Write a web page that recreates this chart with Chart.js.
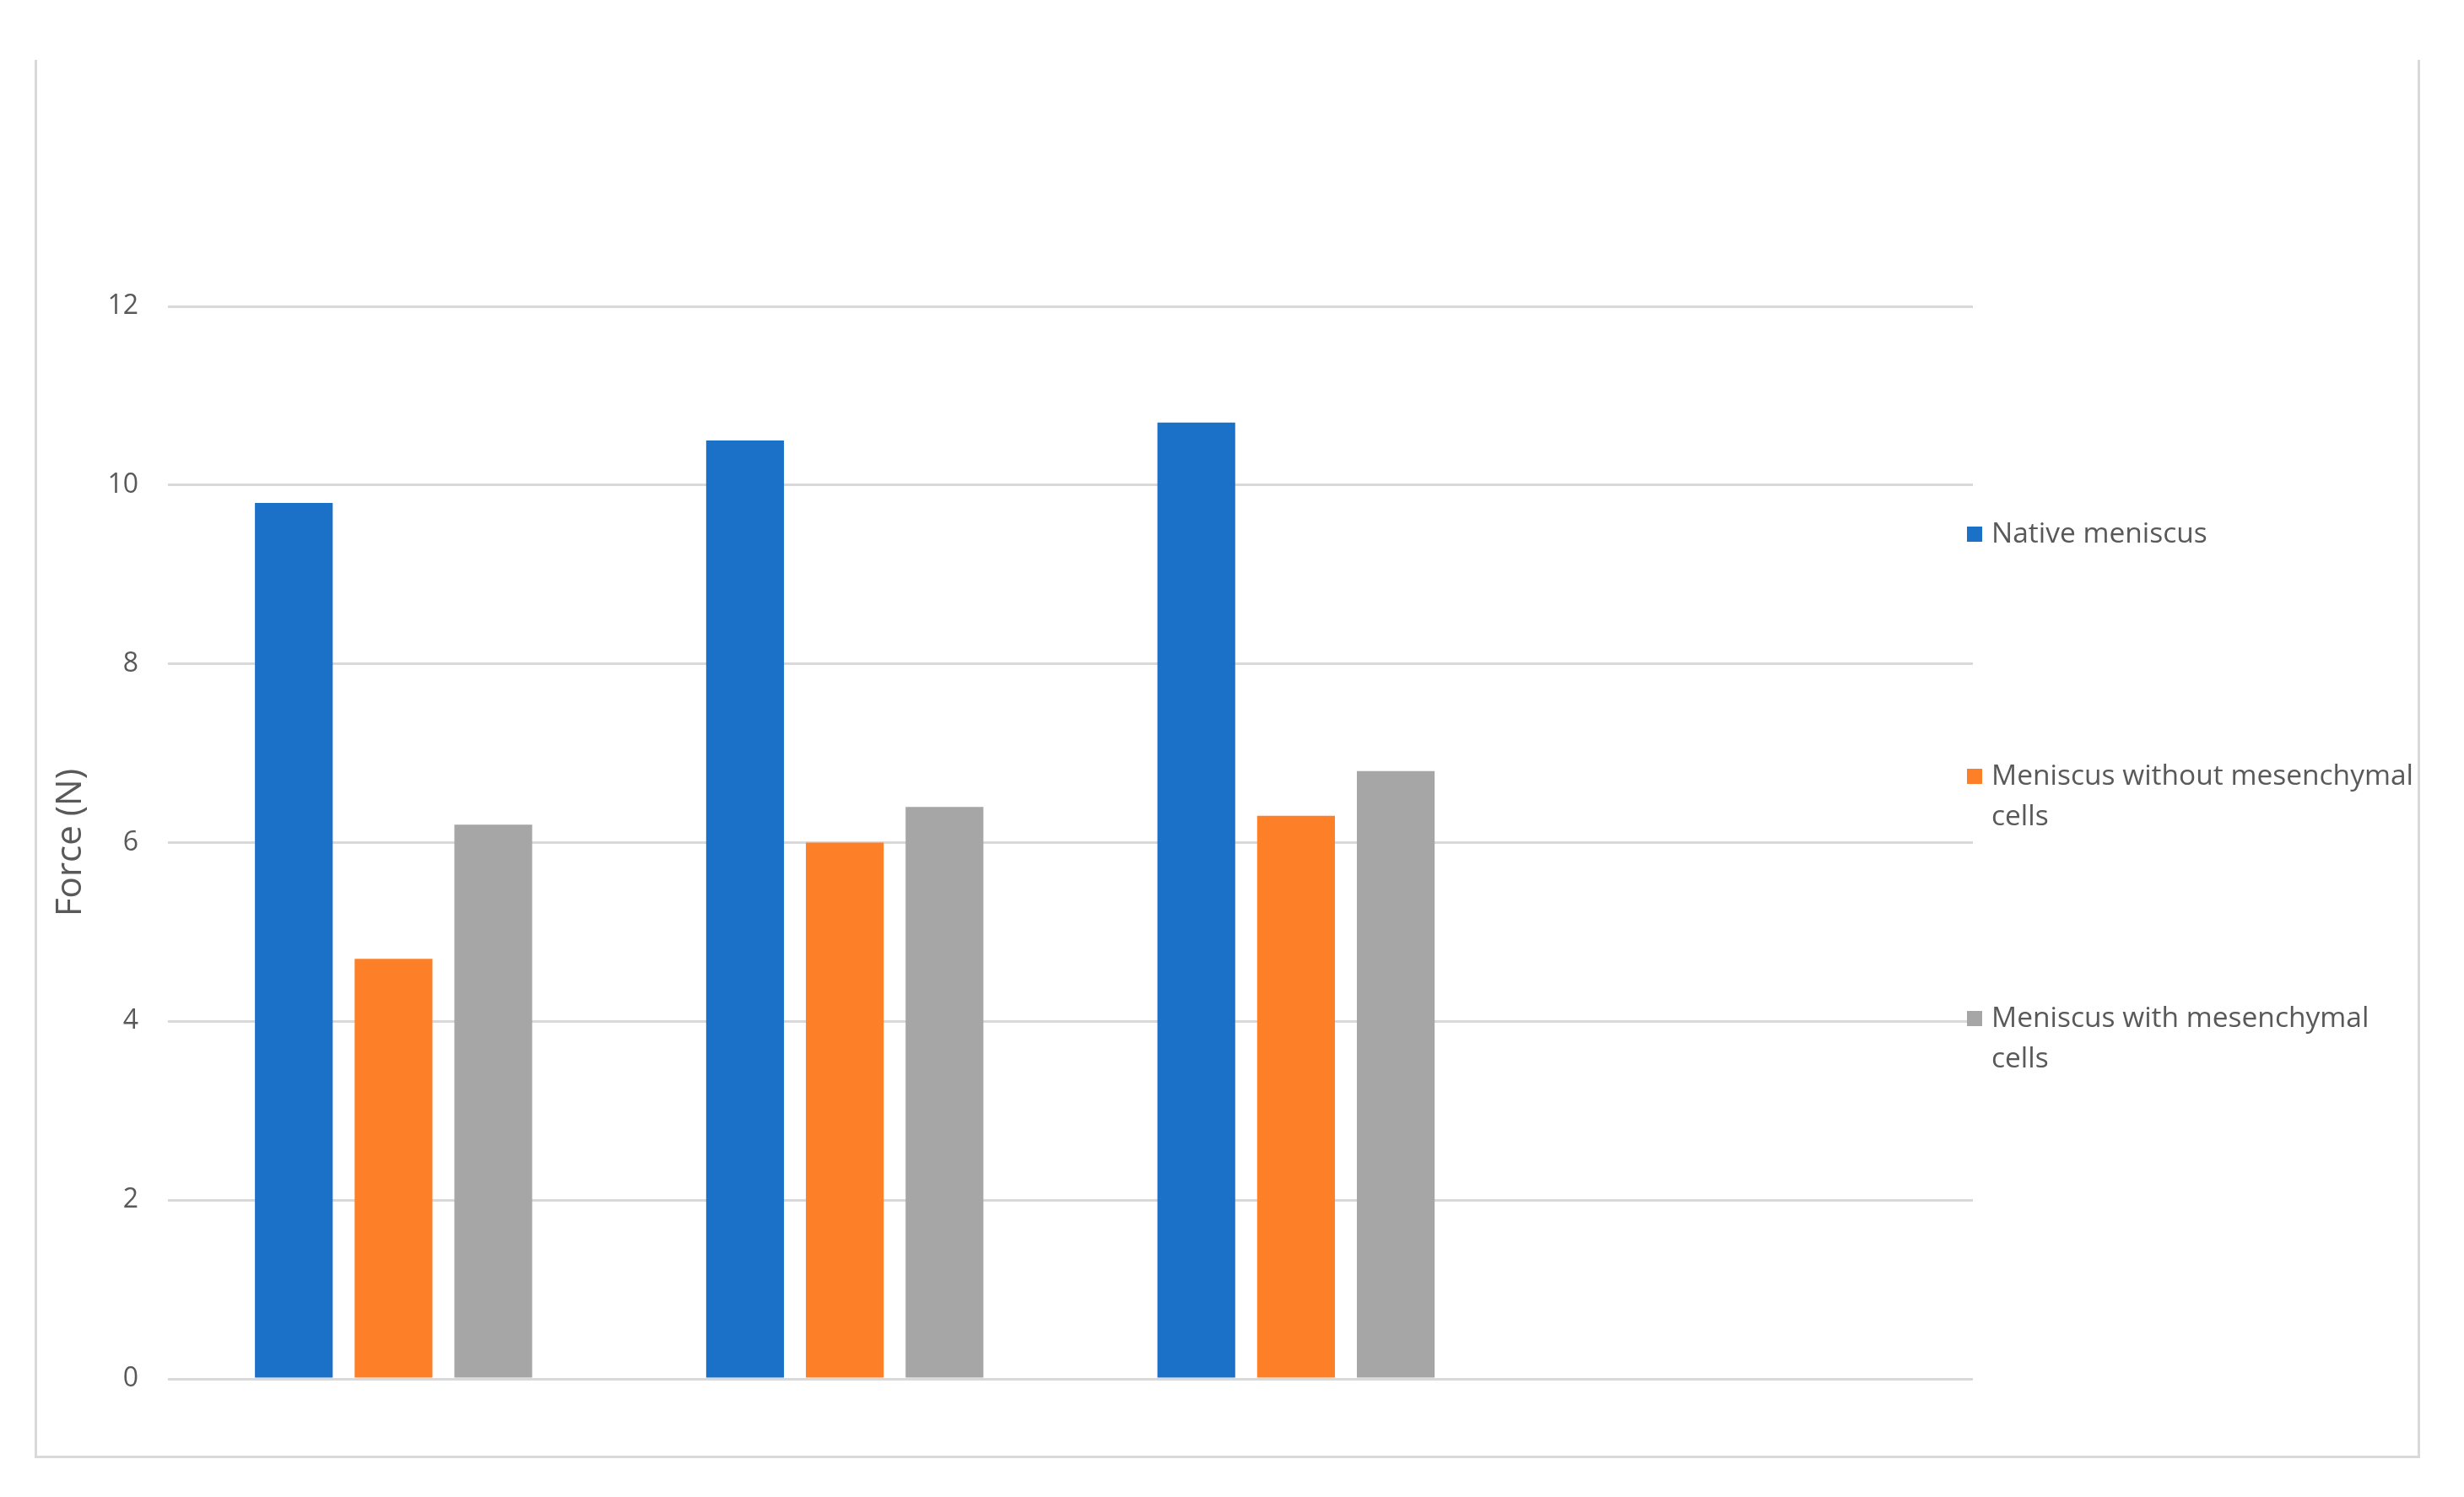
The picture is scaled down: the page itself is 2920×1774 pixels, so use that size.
<!DOCTYPE html>
<html>
<head>
<meta charset="utf-8">
<script src="https://cdn.jsdelivr.net/npm/chart.js@4/dist/chart.umd.min.js"></script>
<style>
body{margin:0;background:#fff;}
#wrap{position:absolute;left:41px;top:71px;width:2821px;height:1654px;border:3px solid #d9d9d9;border-top:none;}
</style>
</head>
<body>
<div id="wrap"><canvas id="forceChart"></canvas></div>
<script>
const categories=["","","",""];
const seriesNames=["Native meniscus","Meniscus without mesenchymal cells","Meniscus with mesenchymal cells"];
const nativeMeniscus=[9.8,10.5,10.7,null];
const withoutMesenchymal=[4.7,6.0,6.3,null];
const withMesenchymal=[6.2,6.4,6.8,null];
const seriesColors=["#1b70c7","#fd7f27","#a6a6a6"];
const yMax=12;
const yStep=2;

const textColor="#595959";
const fontFamily="'Open Sans', 'Noto Sans', sans-serif";

// legend on the right, one entry per dataset, long names wrapped
const sideLegend={
id:"sideLegend",
afterDraw(chart){
const ctx=chart.ctx;
const area=chart.chartArea;
ctx.save();
ctx.font="33.5px "+fontFamily;
ctx.textBaseline="middle";
const maxW=510;
chart.data.datasets.forEach((ds,i)=>{
const y=area.top+270+i*287;
ctx.fillStyle=ds.backgroundColor;
ctx.fillRect(area.right-7,y-9,18,18);
const words=ds.label.split(" ");
let lines=[];
let cur="";
words.forEach(w=>{
const test=cur?cur+" "+w:w;
if(ctx.measureText(test).width>maxW&&cur){
lines.push(cur);
cur=w;
}else{
cur=test;
}
});
lines.push(cur);
ctx.fillStyle=textColor;
lines.forEach((ln,k)=>{
ctx.fillText(ln,area.right+22,y+k*48);
});
});
ctx.restore();
}
};

const forceChart=new Chart(
document.getElementById("forceChart"),
{
type:"bar",
data:{
labels:categories,
datasets:[
{label:seriesNames[0],data:nativeMeniscus,backgroundColor:seriesColors[0]},
{label:seriesNames[1],data:withoutMesenchymal,backgroundColor:seriesColors[1]},
{label:seriesNames[2],data:withMesenchymal,backgroundColor:seriesColors[2]}
]
},
options:{
responsive:true,
maintainAspectRatio:false,
animation:false,
categoryPercentage:0.663,
barPercentage:0.78,
layout:{padding:{left:0,top:292,right:527,bottom:91}},
plugins:{
legend:{display:false},
tooltip:{enabled:false}
},
scales:{
x:{display:false},
y:{
min:0,
max:yMax,
ticks:{stepSize:yStep,color:textColor,font:{size:32,family:fontFamily},padding:35},
grid:{color:"#d9d9d9",lineWidth:3,drawTicks:false},
border:{display:false},
title:{display:true,text:"Force (N)",color:textColor,font:{size:42,family:fontFamily},padding:{top:15,bottom:0}},
afterFit(scale){
scale.width=155;
}
}
}
},
plugins:[sideLegend]
}
);
</script>
</body>
</html>
